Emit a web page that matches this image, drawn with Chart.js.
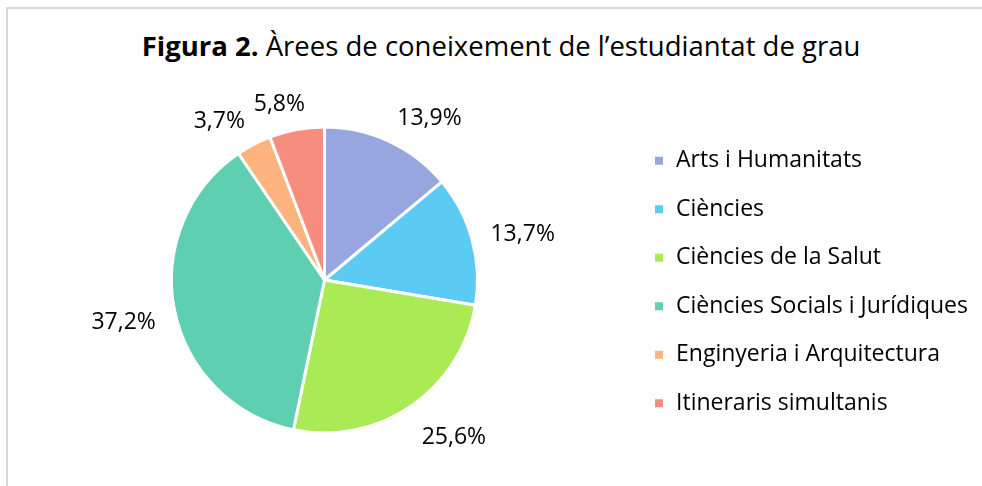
<!DOCTYPE html>
<html>
<head>
<meta charset="utf-8">
<script src="https://cdn.jsdelivr.net/npm/chart.js@4.4.0/dist/chart.umd.min.js"></script>
<style>
  body { margin: 0; background: #fff; font-family: "Open Sans", sans-serif; }
  .frame {
    position: absolute; left: 6px; top: 7px; width: 1000px; height: 500px;
    border: 2px solid #d9d9d9; box-sizing: border-box;
  }
  .title {
    position: absolute; left: 0; top: 27px; width: 1002px; text-align: center;
    font-size: 27.5px; color: #000; line-height: 38px;
  }
  #chart-area { position: absolute; left: 0; top: 0; }
</style>
</head>
<body>
<div class="frame"></div>
<div class="title"><b>Figura 2.</b> Àrees de coneixement de l’estudiantat de grau</div>
<canvas id="chart-area" width="982" height="486"></canvas>
<script>
const categories = ['Arts i Humanitats', 'Ciències', 'Ciències de la Salut', 'Ciències Socials i Jurídiques', 'Enginyeria i Arquitectura', 'Itineraris simultanis'];
const percentages = [13.9, 13.7, 25.6, 37.2, 3.7, 5.8];
const sliceColors = ['#97A6DF', '#5BCBF4', '#A9EA55', '#5ECFB1', '#FDB37E', '#F68D7F'];

const labelFont = '23px "Open Sans"';

// percentage labels outside each slice, like Excel "outside end":
// the point at outerRadius + gap on the mid-angle ray touches the text box
const outsideLabels = {
  id: 'outsideLabels',
  afterDatasetsDraw(chart) {
    const ctx = chart.ctx;
    const meta = chart.getDatasetMeta(0);
    const clampX = function (v) { return Math.max(-1, Math.min(1, v * 3)); };
    const clampY = function (v) { return Math.max(-1, Math.min(1, v * 2)); };
    ctx.save();
    ctx.font = labelFont;
    ctx.fillStyle = '#000';
    ctx.textAlign = 'center';
    ctx.textBaseline = 'middle';
    meta.data.forEach(function (arc, i) {
      const p = arc.getProps(['x', 'y', 'startAngle', 'endAngle', 'outerRadius'], true);
      const mid = (p.startAngle + p.endAngle) / 2;
      const text = percentages[i].toFixed(1).replace('.', ',') + '%';
      const hw = ctx.measureText(text).width / 2;
      const hh = 11;
      const r = p.outerRadius + 19;
      const px = p.x + Math.cos(mid) * r;
      const py = p.y + Math.sin(mid) * r;
      ctx.fillText(text, px + hw * clampX(Math.cos(mid)), py + hh * clampY(Math.sin(mid)) + 5);
    });
    ctx.restore();
  }
};

const pieChart = new Chart(document.getElementById('chart-area').getContext('2d'), {
  type: 'pie',
  data: {
    labels: categories,
    datasets: [{
      data: percentages,
      backgroundColor: sliceColors,
      borderColor: '#ffffff',
      borderWidth: 3,
      radius: 153
    }]
  },
  options: {
    responsive: false,
    animation: false,
    layout: { padding: { top: 80, bottom: 6, left: 21, right: 4 } },
    plugins: {
      title: { display: false },
      tooltip: { enabled: false },
      legend: {
        position: 'right',
        // empty title only nudges the items down a couple of pixels
        title: { display: true, text: '', font: { size: 1 }, padding: 1.4 },
        labels: {
          boxWidth: 11,
          boxHeight: 11,
          padding: 25.5,
          color: '#000',
          font: { family: 'Open Sans', size: 23 }
        }
      }
    }
  },
  plugins: [outsideLabels]
});
</script>
</body>
</html>
